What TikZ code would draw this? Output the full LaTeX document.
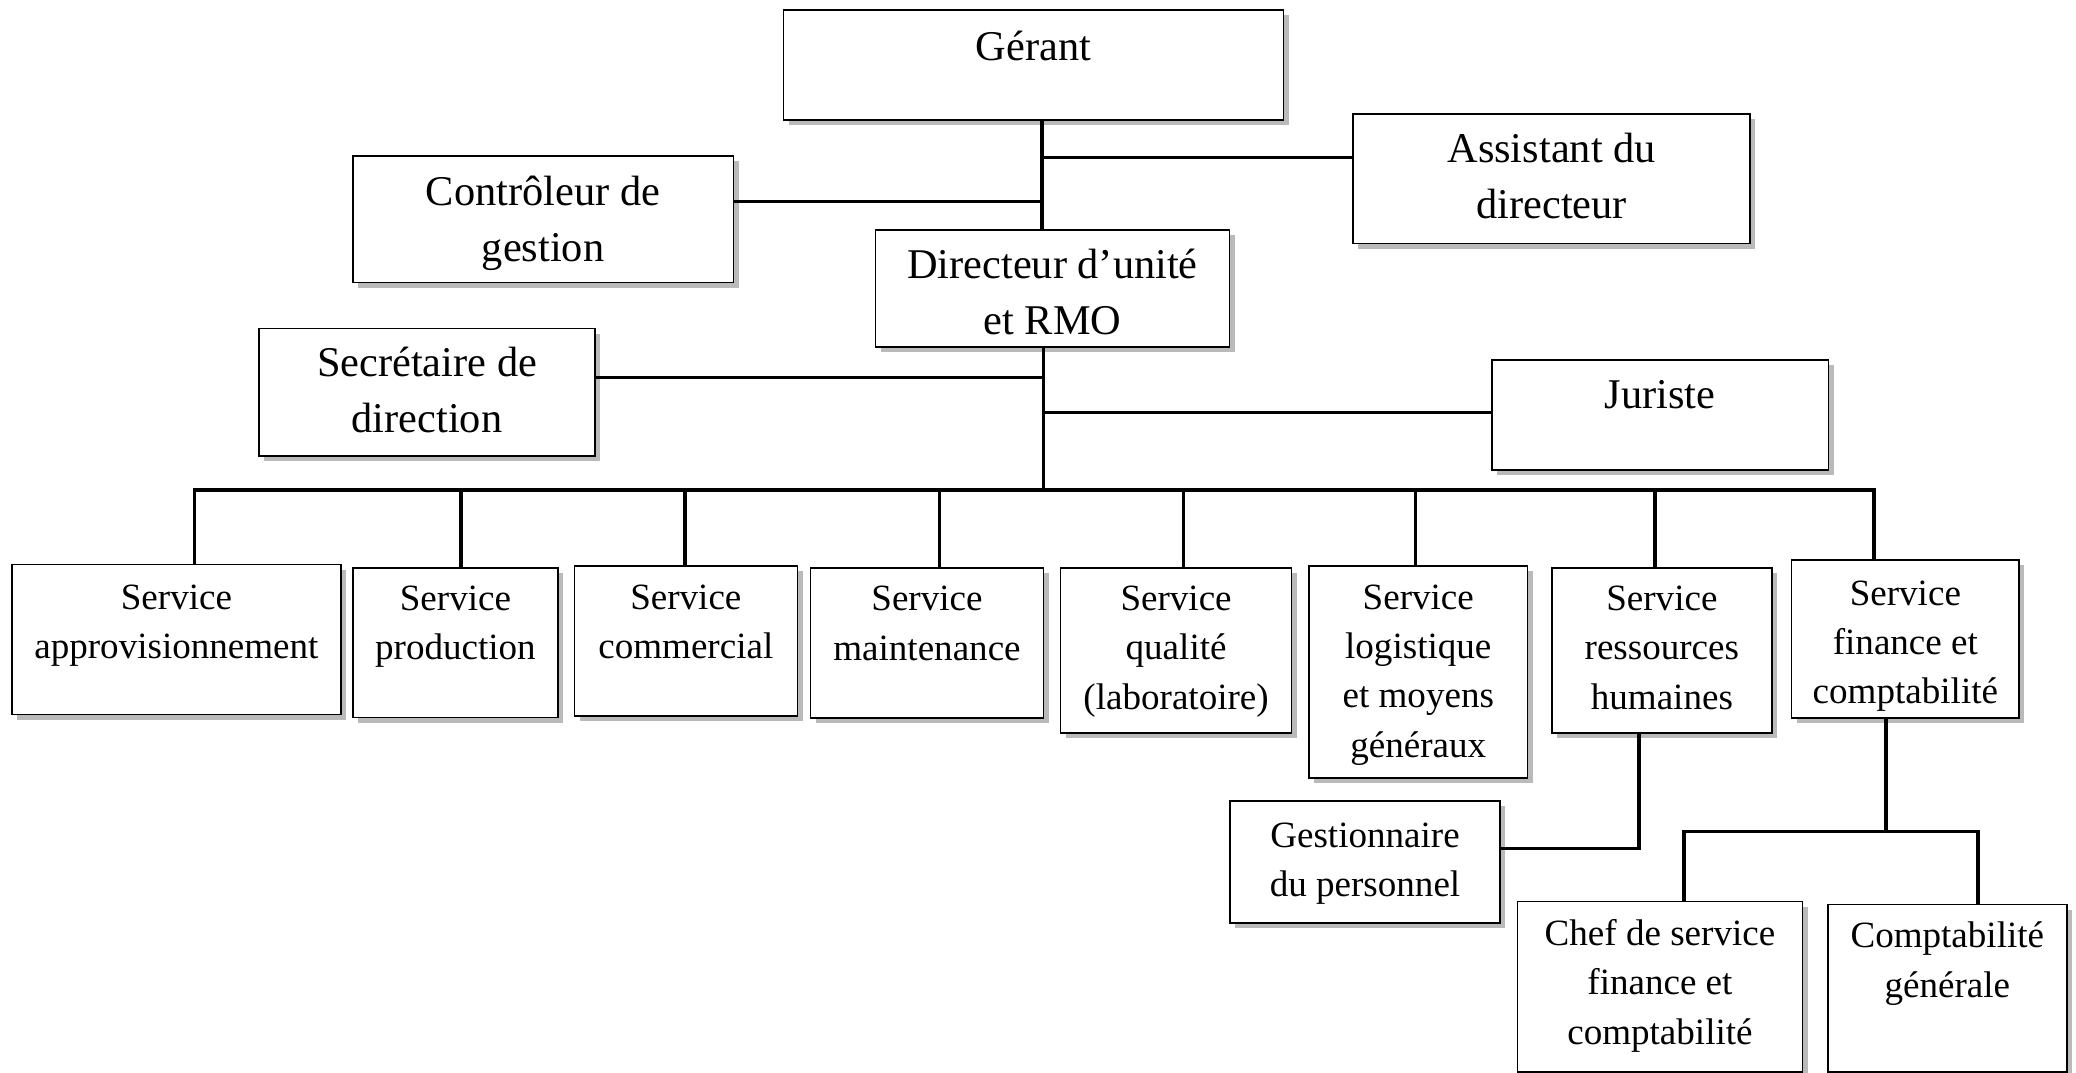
\documentclass[tikz,border=0pt]{standalone}
\usepackage{fontspec}
\setmainfont{Liberation Serif}
\usetikzlibrary{shadows}
\tikzset{
  boxst/.style={draw=black, line width=0.6pt, fill=white, rectangle, inner sep=0pt, outer sep=0pt,
    drop shadow={shadow xshift=2pt, shadow yshift=-2pt, fill=black!27, opacity=1}},
  bigtxt/.style={font=\fontsize{16}{21.25}\selectfont, align=center, inner sep=0pt},
  smalltxt/.style={font=\fontsize{14}{18.65}\selectfont, align=center, inner sep=0pt},
  conn/.style={draw=black, line width=1.35pt},
}
% name, x1, y1, x2, y2, baseline of last line, text style, text
\newcommand\orgbox[8]{%
  \node[boxst, minimum width={(#4-#2)*0.5pt}, minimum height={(#5-#3)*0.5pt}, anchor=north west] (#1) at (#2,#3) {};
  \node[#7, anchor=base] (#1t) at ({(#2+#4)/2},#6) {#8};
}
\begin{document}
\begin{tikzpicture}[x=0.5pt, y=-0.5pt]
\useasboundingbox (0,0) rectangle (1568,810);

% top level
\orgbox{g}{591.8}{7.5}{969.4}{90.6}{45.5}{bigtxt}{Gérant}
\orgbox{as}{1022}{86.1}{1321.8}{183.8}{165.4}{bigtxt}{Assistant du\\directeur}
\orgbox{ctl}{266.4}{117.8}{553.9}{213.5}{197.5}{bigtxt}{Contrôleur de\\gestion}
\orgbox{d}{661.2}{173.7}{928.6}{262}{252.5}{bigtxt}{Directeur d’unité\\et RMO}
\orgbox{sec}{195.6}{248}{449.4}{344.4}{327}{bigtxt}{Secrétaire de\\direction}
\orgbox{jur}{1126.7}{272}{1380.9}{355}{308.5}{bigtxt}{Juriste}

% services
\orgbox{s1}{9}{426.2}{257.5}{539.5}{497.3}{smalltxt}{Service\\approvisionnement}
\orgbox{s2}{266.4}{428.8}{421.6}{542}{498.3}{smalltxt}{Service\\production}
\orgbox{s3}{433.8}{427.5}{602.2}{540.8}{497.5}{smalltxt}{Service\\commercial}
\orgbox{s4}{612.3}{429}{788}{542.4}{498.6}{smalltxt}{Service\\maintenance}
\orgbox{s5}{801}{429}{975.6}{553.6}{535.6}{smalltxt}{Service\\qualité\\(laboratoire)}
\orgbox{s6}{988.6}{427.5}{1153.8}{587.4}{571.9}{smalltxt}{Service\\logistique\\et moyens\\généraux}
\orgbox{s7}{1172}{429}{1338.4}{553.6}{535.6}{smalltxt}{Service\\ressources\\humaines}
\orgbox{s8}{1353.2}{423}{1525}{542.4}{531.6}{smalltxt}{Service\\finance et\\comptabilité}

% lower level
\orgbox{gp}{929}{605}{1133}{697}{677.3}{smalltxt}{Gestionnaire\\du personnel}
\orgbox{ch}{1146}{681}{1361.5}{809.5}{788.6}{smalltxt}{Chef de service\\finance et\\comptabilité}
\orgbox{cg}{1380.6}{683}{1561}{809.5}{753.3}{smalltxt}{Comptabilité\\générale}

% junctions
\coordinate (jA) at (787,118.8);
\coordinate (jC) at (787,152.3);
\coordinate (jS) at (788,285);
\coordinate (jJ) at (788,311.4);
\coordinate (jB) at (788,370);
\coordinate (b1) at (147,370);
\coordinate (b2) at (348,370);
\coordinate (b3) at (517.4,370);
\coordinate (b4) at (709.5,370);
\coordinate (b5) at (894,370);
\coordinate (b6) at (1069,370);
\coordinate (b7) at (1250,370);
\coordinate (b8) at (1415.2,370);
\coordinate (jG) at (1238,641);
\coordinate (jF) at (1424.5,628);
\coordinate (f1) at (1272,628);
\coordinate (f2) at (1494,628);

% connectors
\draw[conn] (g.south -| jA) -- (d.north -| jA);
\draw[conn] (jA) -- (as.west |- jA);
\draw[conn] (ctl.east |- jC) -- (jC);
\draw[conn] (d.south -| jB) -- (jB);
\draw[conn] (sec.east |- jS) -- (jS);
\draw[conn] (jJ) -- (jur.west |- jJ);
\draw[conn] (s1.north -| b1) -- (b1) -- (b8) -- (s8.north -| b8);
\draw[conn] (b2) -- (s2.north -| b2);
\draw[conn] (b3) -- (s3.north -| b3);
\draw[conn] (b4) -- (s4.north -| b4);
\draw[conn] (b5) -- (s5.north -| b5);
\draw[conn] (b6) -- (s6.north -| b6);
\draw[conn] (b7) -- (s7.north -| b7);
\draw[conn] (s7.south -| jG) -- (jG) -- (gp.east |- jG);
\draw[conn] (s8.south -| jF) -- (jF);
\draw[conn] (ch.north -| f1) -- (f1) -- (f2) -- (cg.north -| f2);
\end{tikzpicture}
\end{document}
